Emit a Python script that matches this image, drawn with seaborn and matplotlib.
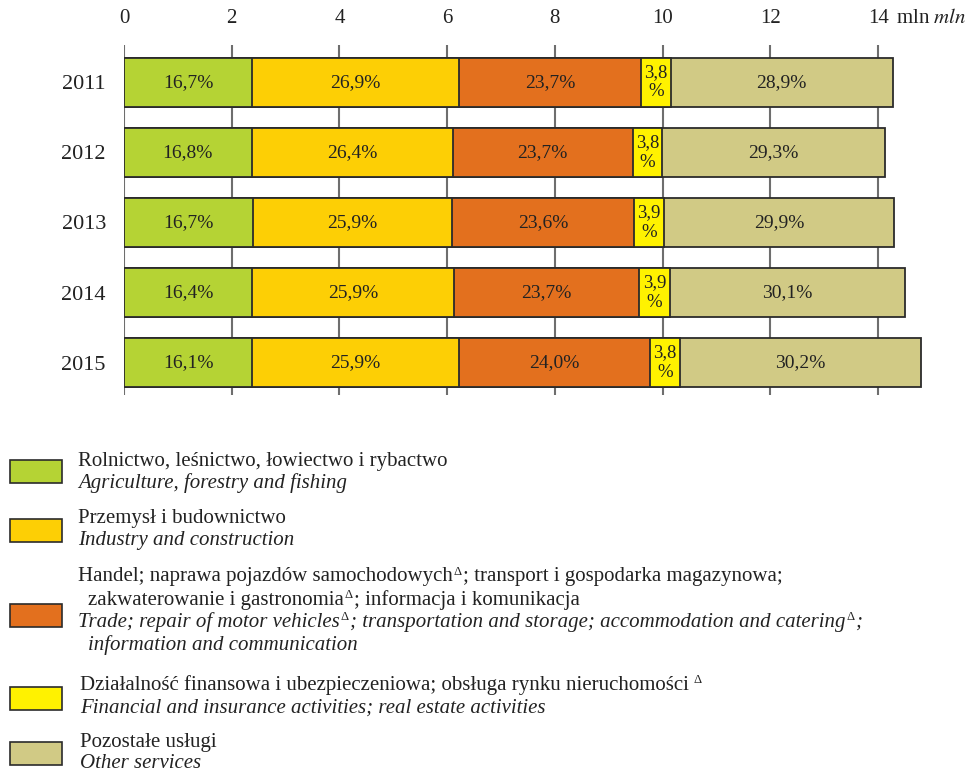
import matplotlib
matplotlib.use('Agg')
import matplotlib.pyplot as plt
import seaborn as sns
import pandas as pd
from matplotlib.patches import Rectangle

# Dane: struktura pracujących wg sekcji (udział %) i liczba ogółem (mln)
years = ['2011', '2012', '2013', '2014', '2015']
totals = [14.27, 14.12, 14.30, 14.49, 14.79]
agri = [16.7, 16.8, 16.7, 16.4, 16.1]
industry = [26.9, 26.4, 25.9, 25.9, 25.9]
trade = [23.7, 23.7, 23.6, 23.7, 24.0]
finance = [3.8, 3.8, 3.9, 3.9, 3.8]
other = [28.9, 29.3, 29.9, 30.1, 30.2]
xticks = [0, 2, 4, 6, 8, 10, 12, 14]

colors = ['#b5d334', '#fdcf05', '#e3701e', '#fff200', '#d1ca85']
shares = [agri, industry, trade, finance, other]

sns.set_style('white')
plt.rcParams['font.family'] = ['Liberation Serif', 'DejaVu Serif']
plt.rcParams['mathtext.fontset'] = 'stix'

fig = plt.figure(figsize=(9.65, 7.74), dpi=100)
W, H = 965, 774
ax = fig.add_axes([124 / W, 1 - 395 / H, (932 - 124) / W, (395 - 45) / H])

# wartości bezwzględne i narastająco
df = pd.DataFrame({'year': years, 'total': totals})
cum = []
run = [0.0] * len(years)
for s in shares:
    seg = [p / 100 * t for p, t in zip(s, totals)]
    starts = run[:]
    run = [a + b for a, b in zip(run, seg)]
    cum.append((starts, run[:]))

# słupki skumulowane rysowane od najdłuższego
for i in reversed(range(len(shares))):
    df['x'] = cum[i][1]
    sns.barplot(data=df, x='x', y='year', orient='h', color=colors[i],
                width=0.7, edgecolor='#2b2b2b', linewidth=1.3, saturation=1,
                ax=ax, zorder=2)

# etykiety procentowe
for i, s in enumerate(shares):
    for j, p in enumerate(s):
        x0, x1 = cum[i][0][j], cum[i][1][j]
        lab = f'{p:.1f}'.replace('.', ',')
        if p < 5:
            ax.text((x0 + x1) / 2, j, lab + '\n%', ha='center', va='center',
                    fontsize=13.5, linespacing=1.2, color='#222222', zorder=3)
        else:
            ax.text((x0 + x1) / 2, j, lab + '%', ha='center', va='center',
                    fontsize=14, color='#222222', zorder=3)

ax.set_xlim(0, 15)
ax.set_ylim(4.46, -0.53)
ax.set_xticks(xticks)
ax.set_xticklabels([str(t) for t in xticks])
ax.xaxis.tick_top()
ax.tick_params(axis='x', length=0, pad=12, labelsize=15, colors='#222222')
ax.tick_params(axis='y', length=0, pad=13, labelsize=16, colors='#222222')
ax.set_xlabel('')
ax.set_ylabel('')
ax.set_axisbelow(True)
ax.xaxis.grid(True, color='#6e6e6e', lw=1.5, zorder=0)
ax.yaxis.grid(False)
for sp in ax.spines.values():
    sp.set_visible(False)

ax.annotate(r' mln $\mathit{mln}$', xy=(14, 1), xycoords=('data', 'axes fraction'),
            xytext=(9, 12), textcoords='offset points', ha='left', va='bottom',
            fontsize=15, color='#222222')

# legenda; "Δ" jako mały tekst w indeksie górnym, kawałki składane po szerokości
renderer = fig.canvas.get_renderer()
DELTA = 'Δ'


def legend_line(x, y, parts, style):
    cx = x
    for p in parts:
        if isinstance(p, tuple):
            gap = p[1]
            t = fig.text((cx + gap) / W, 1 - (y - 11) / H, DELTA, ha='left',
                         va='top', fontsize=9, color='#222222')
            cx += gap + t.get_window_extent(renderer).width + 1
        else:
            t = fig.text(cx / W, 1 - y / H, p, ha='left', va='center',
                         fontsize=15, style=style, color='#222222')
            cx += t.get_window_extent(renderer).width


legend_rows = [
    (460, [(78, 462, ['Rolnictwo, leśnictwo, łowiectwo i rybactwo'], 'normal'),
           (78, 483, ['Agriculture, forestry and fishing'], 'italic')]),
    (519, [(78, 518, ['Przemysł i budownictwo'], 'normal'),
           (78, 540, ['Industry and construction'], 'italic')]),
    (604, [(78, 577, ['Handel; naprawa pojazdów samochodowych', (DELTA, 1),
                      '; transport i gospodarka magazynowa;'], 'normal'),
           (88, 600, ['zakwaterowanie i gastronomia', (DELTA, 1),
                      '; informacja i komunikacja'], 'normal'),
           (78, 622, ['Trade; repair of motor vehicles', (DELTA, 1),
                      '; transportation and storage; accommodation and catering',
                      (DELTA, 1), ';'], 'italic'),
           (88, 645, ['information and communication'], 'italic')]),
    (687, [(80, 685, ['Działalność finansowa i ubezpieczeniowa; obsługa rynku nieruchomości',
                      (DELTA, 5)], 'normal'),
           (80, 708, ['Financial and insurance activities; real estate activities'], 'italic')]),
    (742, [(80, 743, ['Pozostałe usługi'], 'normal'),
           (80, 764, ['Other services'], 'italic')]),
]
for k, (ytop, lines) in enumerate(legend_rows):
    fig.add_artist(Rectangle((10 / W, 1 - (ytop + 23) / H), 52 / W, 23 / H,
                             transform=fig.transFigure, facecolor=colors[k],
                             edgecolor='#2b2b2b', lw=1.2))
    for x, y, parts, st in lines:
        legend_line(x, y, parts, st)

fig.savefig('out.png', dpi=100)
